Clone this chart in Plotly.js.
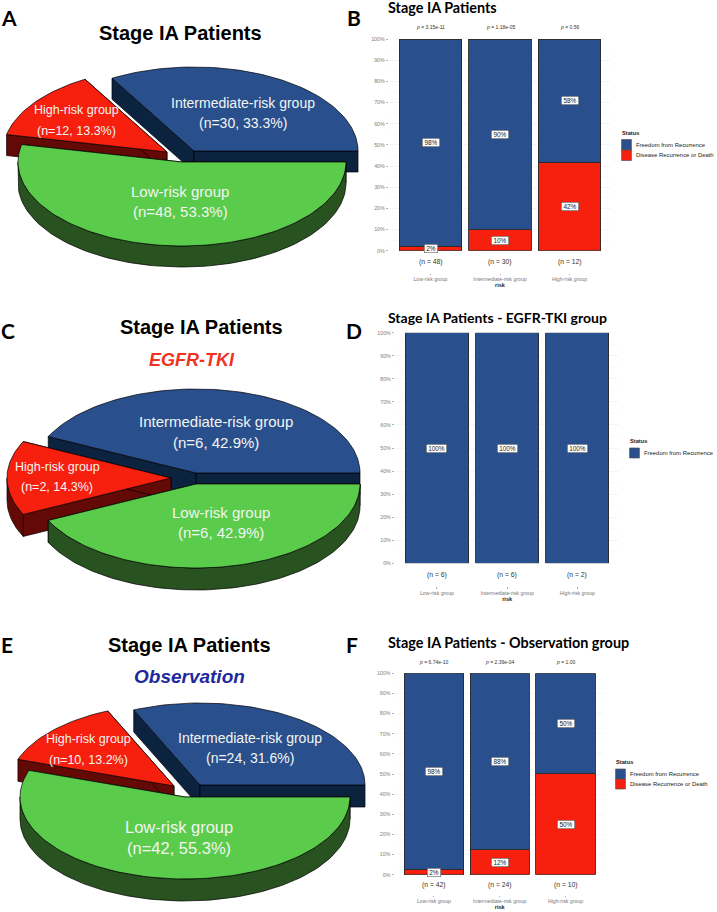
<!DOCTYPE html>
<html><head><meta charset="utf-8">
<script src="https://cdn.plot.ly/plotly-3.0.1.min.js"></script>
<style>html,body{margin:0;padding:0;background:#fff}</style>
</head><body><div id="chart" style="width:717px;height:912px"></div>
<script>
// ---------- data ----------
const riskGroups = ['Low-risk group','Intermediate-risk group','High-risk group'];
const pieOrder = ['Low-risk group','High-risk group','Intermediate-risk group'];
const pieA_counts = [48,12,30];
const pieC_counts = [6,2,6];
const pieE_counts = [42,10,24];

const barB_freedom = [97.9,90,58.3];
const barB_disease = [2.1,10,41.7];
const barB_labelsFree = ['98%','90%','58%'];
const barB_labelsDis = ['2%','10%','42%'];
const barB_n = [48,30,12];
const barB_p = ['3.15e-11','1.18e-05','0.56'];

const barD_freedom = [100,100,100];
const barD_labelsFree = ['100%','100%','100%'];
const barD_n = [6,6,2];

const barF_freedom = [97.6,87.5,50];
const barF_disease = [2.4,12.5,50];
const barF_labelsFree = ['98%','88%','50%'];
const barF_labelsDis = ['2%','12%','50%'];
const barF_n = [42,24,10];
const barF_p = ['6.74e-10','2.39e-04','1.00'];

// ---------- style ----------
const BLUE='#2a4f8d', RED='#f71f0e', GREEN='#5acb4a';
const WALL={[pieOrder[0]]:'#28521f',[pieOrder[1]]:'#640a06',[pieOrder[2]]:'#0c2340'};
const TOP={[pieOrder[0]]:GREEN,[pieOrder[1]]:RED,[pieOrder[2]]:BLUE};
const ARIAL='"Liberation Sans", Arial, sans-serif', LATO='Lato, sans-serif';
const W=717,H=912;
const fx=p=>p/W, fy=p=>1-p/H;

// pie layout: apex of each slice in page pixels, radii, depth
const pieLayouts=[
 {counts:pieA_counts,rx:164,ry:84,d:21,apex:[[182,162],[167,152],[194,151]],
  text:[[180,191,211,15],[76,110,131,12.5],[243,103,123,14]]},
 {counts:pieC_counts,rx:164,ry:84,d:22,apex:[[196,484],[171,478],[196,473]],
  text:[[221,512,532,15],[57,467,487,12.5],[216,421,442,15]]},
 {counts:pieE_counts,rx:165,ry:82,d:22,apex:[[185,797],[174,786],[200,785]],
  text:[[179,827,848,16.5],[88,739,760,12.5],[250,738,758,14]]}
];

const traces=[], annotations=[], shapes=[];
const px=(x,y,text,size,opt={})=>annotations.push(Object.assign({xref:'x4',yref:'y4',x,y,text,showarrow:false,
  xanchor:'center',yanchor:'middle',font:Object.assign({family:ARIAL,size,color:'#000'},opt.font||{})},opt.a||{}));

// ---------- pies ----------
function arc(c,rx,ry,t0,t1,dy){const n=Math.max(2,Math.ceil(Math.abs(t1-t0)/0.03));const xs=[],ys=[];
  for(let i=0;i<=n;i++){const t=t0+(t1-t0)*i/n;xs.push(c[0]+rx*Math.cos(t));ys.push(c[1]+ry*Math.sin(t)+dy);}return [xs,ys];}
function poly(xs,ys,color,name){traces.push({type:'scatter',mode:'lines',x:xs,y:ys,xaxis:'x4',yaxis:'y4',fill:'toself',
  fillcolor:color,line:{color:'#000',width:0.7},hoverinfo:'skip',showlegend:false,name});}

pieLayouts.forEach(p=>{
  const total=p.counts.reduce((a,b)=>a+b,0);
  let start=0; const slices=p.counts.map((v,i)=>{const t0=start;start+=v/total*2*Math.PI;return {i,v,t0,t1:start};});
  // back-to-front: intermediate, high, low
  [2,1,0].forEach(k=>{
    const s=slices[k],c=p.apex[k],name=pieOrder[k];
    [s.t0,s.t1].forEach(t=>{
      const rimx=c[0]+p.rx*Math.cos(t),rimy=c[1]+p.ry*Math.sin(t);
      poly([c[0],rimx,rimx,c[0],c[0]],[c[1],rimy,rimy+p.d,c[1]+p.d,c[1]],WALL[name],name+' edge');
    });
    const a0=s.t0,a1=Math.min(s.t1,Math.PI);
    if(a1>a0){const [ax,ay]=arc(c,p.rx,p.ry,a0,a1,0),[bx,by]=arc(c,p.rx,p.ry,a1,a0,p.d);
      poly([...ax,...bx,ax[0]],[...ay,...by,ay[0]],WALL[name],name+' rim');}
    const [tx,ty]=arc(c,p.rx,p.ry,s.t0,s.t1,0);
    poly([c[0],...tx,c[0]],[c[1],...ty,c[1]],TOP[name],name);
    const T=p.text[k];
    px(T[0],T[1],name,T[3],{font:{color:'#f2f5f2'}});
    px(T[0],T[2],`(n=${s.v}, ${(s.v/total*100).toFixed(1)}%)`,T[3],{font:{color:'#f2f5f2'}});
  });
});

// ---------- bar panels ----------
const layout={width:W,height:H,margin:{l:0,r:0,t:0,b:0},paper_bgcolor:'#fff',plot_bgcolor:'rgba(0,0,0,0)',
  showlegend:false,barmode:'stack',bargap:0.1,font:{family:ARIAL},
  xaxis4:{domain:[0,1],range:[0,W],visible:false,fixedrange:true,anchor:'y4'},
  yaxis4:{domain:[0,1],range:[H,0],visible:false,fixedrange:true,anchor:'x4'}};

function panel(o){
  const sfx=o.id===1?'':String(o.id);
  const xa='x'+sfx, ya='y'+sfx;
  if(o.disease) traces.push({type:'bar',x:riskGroups,y:o.disease,xaxis:xa,yaxis:ya,width:0.9,name:'Disease Recurrence or Death',
    marker:{color:RED,line:{color:'#2a2a2a',width:0.9}},hoverinfo:'skip',cliponaxis:false});
  traces.push({type:'bar',x:riskGroups,y:o.freedom,xaxis:xa,yaxis:ya,width:0.9,name:'Freedom from Recurrence',
    marker:{color:BLUE,line:{color:'#2a2a2a',width:0.9}},hoverinfo:'skip',cliponaxis:false});
  layout['xaxis'+sfx]={domain:[fx(o.left),fx(o.right)],range:[-0.6,2.6],type:'category',categoryorder:'array',categoryarray:riskGroups,
    anchor:'free',position:fy(o.axisY),showgrid:false,zeroline:false,showline:false,ticks:'outside',ticklen:1.5,tickwidth:0.5,tickcolor:'#555',
    tickfont:{family:ARIAL,size:5.2,color:'#777'},fixedrange:true,tickangle:0,
    title:{text:'<b>risk</b>',font:{family:ARIAL,size:5.6,color:'#222'},standoff:1}};
  layout['yaxis'+sfx]={domain:[fy(o.y0),fy(o.y100)],range:[0,100],dtick:10,ticksuffix:'%',anchor:xa,
    showgrid:true,gridcolor:'#f0f0f0',gridwidth:0.6,zeroline:false,showline:false,ticks:'outside',ticklen:2,tickwidth:0.5,tickcolor:'#666',
    minor:{dtick:5,showgrid:true,gridcolor:'#f5f5f5',gridwidth:0.5,ticks:''},
    tickfont:{family:ARIAL,size:5.3,color:'#808080'},fixedrange:true};
  const boxW={2:11,3:15,4:18};
  riskGroups.forEach((g,i)=>{
    const lab=(text,y)=>annotations.push({xref:xa,yref:ya,x:g,y,text,showarrow:false,bgcolor:'#fff',bordercolor:'#444',borderwidth:0.5,borderpad:1,
      width:boxW[text.length],height:6,align:'center',font:{family:ARIAL,size:6.4,color:'#222'}});
    const dis=o.disease?o.disease[i]:0;
    lab(o.labelsFree[i],dis+o.freedom[i]/2);
    if(o.disease) lab(o.labelsDis[i],dis/2);
    annotations.push({xref:xa,yref:'paper',x:g,y:fy(o.nY),yanchor:'middle',text:`(n = ${o.n[i]})`,showarrow:false,font:{family:ARIAL,size:6.8,color:'#333'}});
    if(o.p) annotations.push({xref:xa,yref:'paper',x:g,y:fy(o.pY),yanchor:'middle',text:`<i>p</i> = ${o.p[i]}`,showarrow:false,font:{family:ARIAL,size:5,color:'#333'}});
  });
  // legend
  px(o.lg.x-1,o.lg.titleY,'<b>Status</b>',5.7,{a:{xanchor:'left'},font:{color:'#222'}});
  const entries=o.disease?[['Freedom from Recurrence',BLUE],['Disease Recurrence or Death',RED]]:[['Freedom from Recurrence',BLUE]];
  entries.forEach((e,i)=>{
    const yy=o.lg.keyY+i*o.lg.step;
    shapes.push({type:'rect',xref:'x4',yref:'y4',x0:o.lg.x+0.6,x1:o.lg.x+10.4,y0:yy,y1:yy+o.lg.step,fillcolor:e[1],line:{color:'#555',width:0.7},layer:'above'});
    px(o.lg.x+13,yy+o.lg.step/2,e[0],5.9,{a:{xanchor:'left'},font:{color:'#222'}});
  });
}
panel({id:1,left:388.8,right:611.2,y0:250.7,y100:39,axisY:272.5,nY:262,pY:27,freedom:barB_freedom,disease:barB_disease,
  labelsFree:barB_labelsFree,labelsDis:barB_labelsDis,n:barB_n,p:barB_p,lg:{x:621,titleY:132.7,keyY:139.5,step:10.5}});
panel({id:2,left:394.9,right:619.4,y0:563.3,y100:332.7,axisY:586,nY:575,freedom:barD_freedom,
  labelsFree:barD_labelsFree,n:barD_n,lg:{x:629,titleY:441,keyY:448,step:10}});
panel({id:3,left:394.5,right:605,y0:874.7,y100:673.3,axisY:894.5,nY:885,pY:662,freedom:barF_freedom,disease:barF_disease,
  labelsFree:barF_labelsFree,labelsDis:barF_labelsDis,n:barF_n,p:barF_p,lg:{x:615,titleY:762,keyY:769,step:10}});

// ---------- titles ----------
px(180,33,'<b>Stage IA Patients</b>',20);
px(201,327,'<b>Stage IA Patients</b>',20);
px(189,645,'<b>Stage IA Patients</b>',20);
px(192,360,'<b><i>EGFR-TKI</i></b>',18,{font:{color:'#f0321e'}});
px(189,676,'<b><i>Observation</i></b>',19,{font:{color:'#1c2a9e'}});
[['A',9,17],['B',354,17],['C',8,330],['D',354,330],['E',7,644],['F',352,644]].forEach(l=>
  px(l[1],l[2],'<b>'+l[0]+'</b>',21,{font:{family:LATO}}));
const lt=(x,y,t,s)=>px(x,y,'<b>'+t+'</b>',s,{a:{xanchor:'left'},font:{family:LATO}});
lt(386,7,'Stage IA Patients',14.4);
lt(386,317,'Stage IA Patients - EGFR-TKI group',14);
lt(386,642,'Stage IA Patients - Observation group',14.4);

layout.annotations=annotations; layout.shapes=shapes;
Plotly.newPlot('chart',traces,layout,{staticPlot:true,displayModeBar:false});
</script></body></html>
